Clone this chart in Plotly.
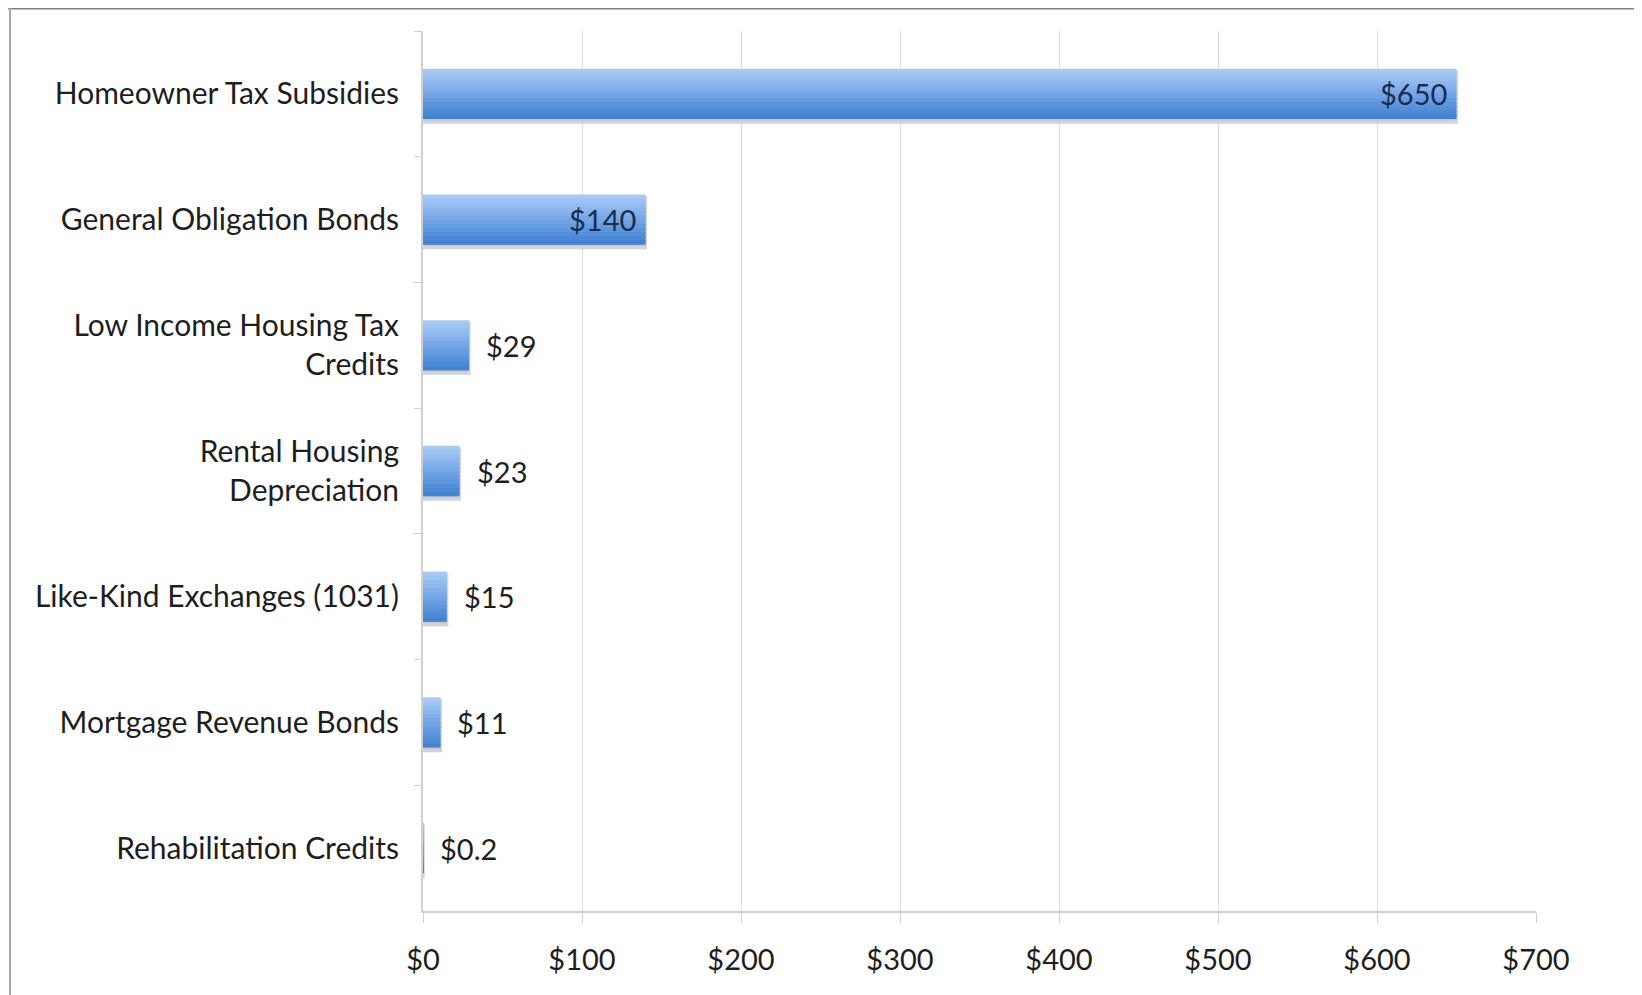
import plotly.graph_objects as go

categories = [
    "Homeowner Tax Subsidies",
    "General Obligation Bonds",
    "Low Income Housing Tax<br>Credits",
    "Rental Housing<br>Depreciation",
    "Like-Kind Exchanges (1031)",
    "Mortgage Revenue Bonds",
    "Rehabilitation Credits",
]
values = [650, 140, 29, 23, 15, 11, 0.2]
value_labels = ["$650", "$140", "$29", "$23", "$15", "$11", "$0.2"]
label_inside = [True, True, False, False, False, False, False]
tick_vals = [0, 100, 200, 300, 400, 500, 600, 700]
tick_text = ["$0", "$100", "$200", "$300", "$400", "$500", "$600", "$700"]

FONT = "Lato"
W, H = 1642, 995
L, R, T, B = 415, 114, 23, 92
PW, PH = W - L - R, H - T - B


def px_x(px):
    return (px - L) / PW


def px_y(py):
    return (H - B - py) / PH


fig = go.Figure()

bar_w = 0.40
# shadow
fig.add_trace(go.Bar(
    y=categories, x=values, orientation="h",
    width=bar_w, offset=-bar_w / 2 + 0.025,
    marker=dict(color="#c9c9c9", line=dict(color="#d4d4d4", width=3)),
    hoverinfo="skip", showlegend=False,
))

# gradient strips (top light -> bottom dark)
top = (166, 202, 246)
bot = (66, 131, 212)
N = 12
step = bar_w / N
for i in range(N):
    f = i / (N - 1)
    c = tuple(int(round(top[k] + (bot[k] - top[k]) * f)) for k in range(3))
    w = step * 1.35 if i < N - 1 else step
    fig.add_trace(go.Bar(
        y=categories, x=values, orientation="h",
        width=w, offset=-bar_w / 2 + i * step,
        marker=dict(color="rgb(%d,%d,%d)" % c, line=dict(width=0)),
        hoverinfo="skip", showlegend=False,
    ))

annotations = []
for cat, v, lab, ins in zip(categories, values, value_labels, label_inside):
    if ins:
        annotations.append(dict(x=v, y=cat, xref="x", yref="y", text=lab,
                                showarrow=False, xanchor="right", xshift=-8,
                                font=dict(family=FONT, size=29, color="#1b2c4e")))
    else:
        annotations.append(dict(x=v, y=cat, xref="x", yref="y", text=lab,
                                showarrow=False, xanchor="left", xshift=15,
                                font=dict(family=FONT, size=29, color="#1e1e1e")))

fig.update_layout(
    width=W, height=H,
    margin=dict(l=L, r=R, t=T, b=B),
    paper_bgcolor="white", plot_bgcolor="white",
    barmode="overlay",
    showlegend=False,
    font=dict(family=FONT, size=29, color="#1e1e1e"),
    annotations=annotations,
    shapes=[
        dict(type="line", xref="paper", yref="paper",
             x0=px_x(0), x1=px_x(W), y0=px_y(0.75), y1=px_y(0.75),
             line=dict(color="#808080", width=1.5), layer="below"),
        dict(type="line", xref="paper", yref="paper",
             x0=px_x(2), x1=px_x(2), y0=px_y(0), y1=px_y(H),
             line=dict(color="#a8a8a8", width=2), layer="below"),
    ],
)

fig.update_xaxes(
    range=[0, 700], tickvals=tick_vals, ticktext=tick_text,
    showgrid=True, gridcolor="#dcdcdc", gridwidth=1,
    showline=True, linecolor="#d0d0d0", linewidth=2,
    ticks="outside", ticklen=10, tickcolor="#d0d0d0",
    tickfont=dict(family=FONT, size=29, color="#1e1e1e"),
    ticklabelstandoff=12, zeroline=False, fixedrange=True,
)
fig.update_yaxes(
    autorange="reversed", categoryorder="array", categoryarray=categories,
    showline=True, linecolor="#d0d0d0", linewidth=2,
    ticks="outside", ticklen=7, tickcolor="#d0d0d0", tickson="boundaries",
    tickfont=dict(family=FONT, size=30, color="#1e1e1e"),
    ticklabelstandoff=16, showgrid=False, fixedrange=True,
)

fig.write_html("out.html")
